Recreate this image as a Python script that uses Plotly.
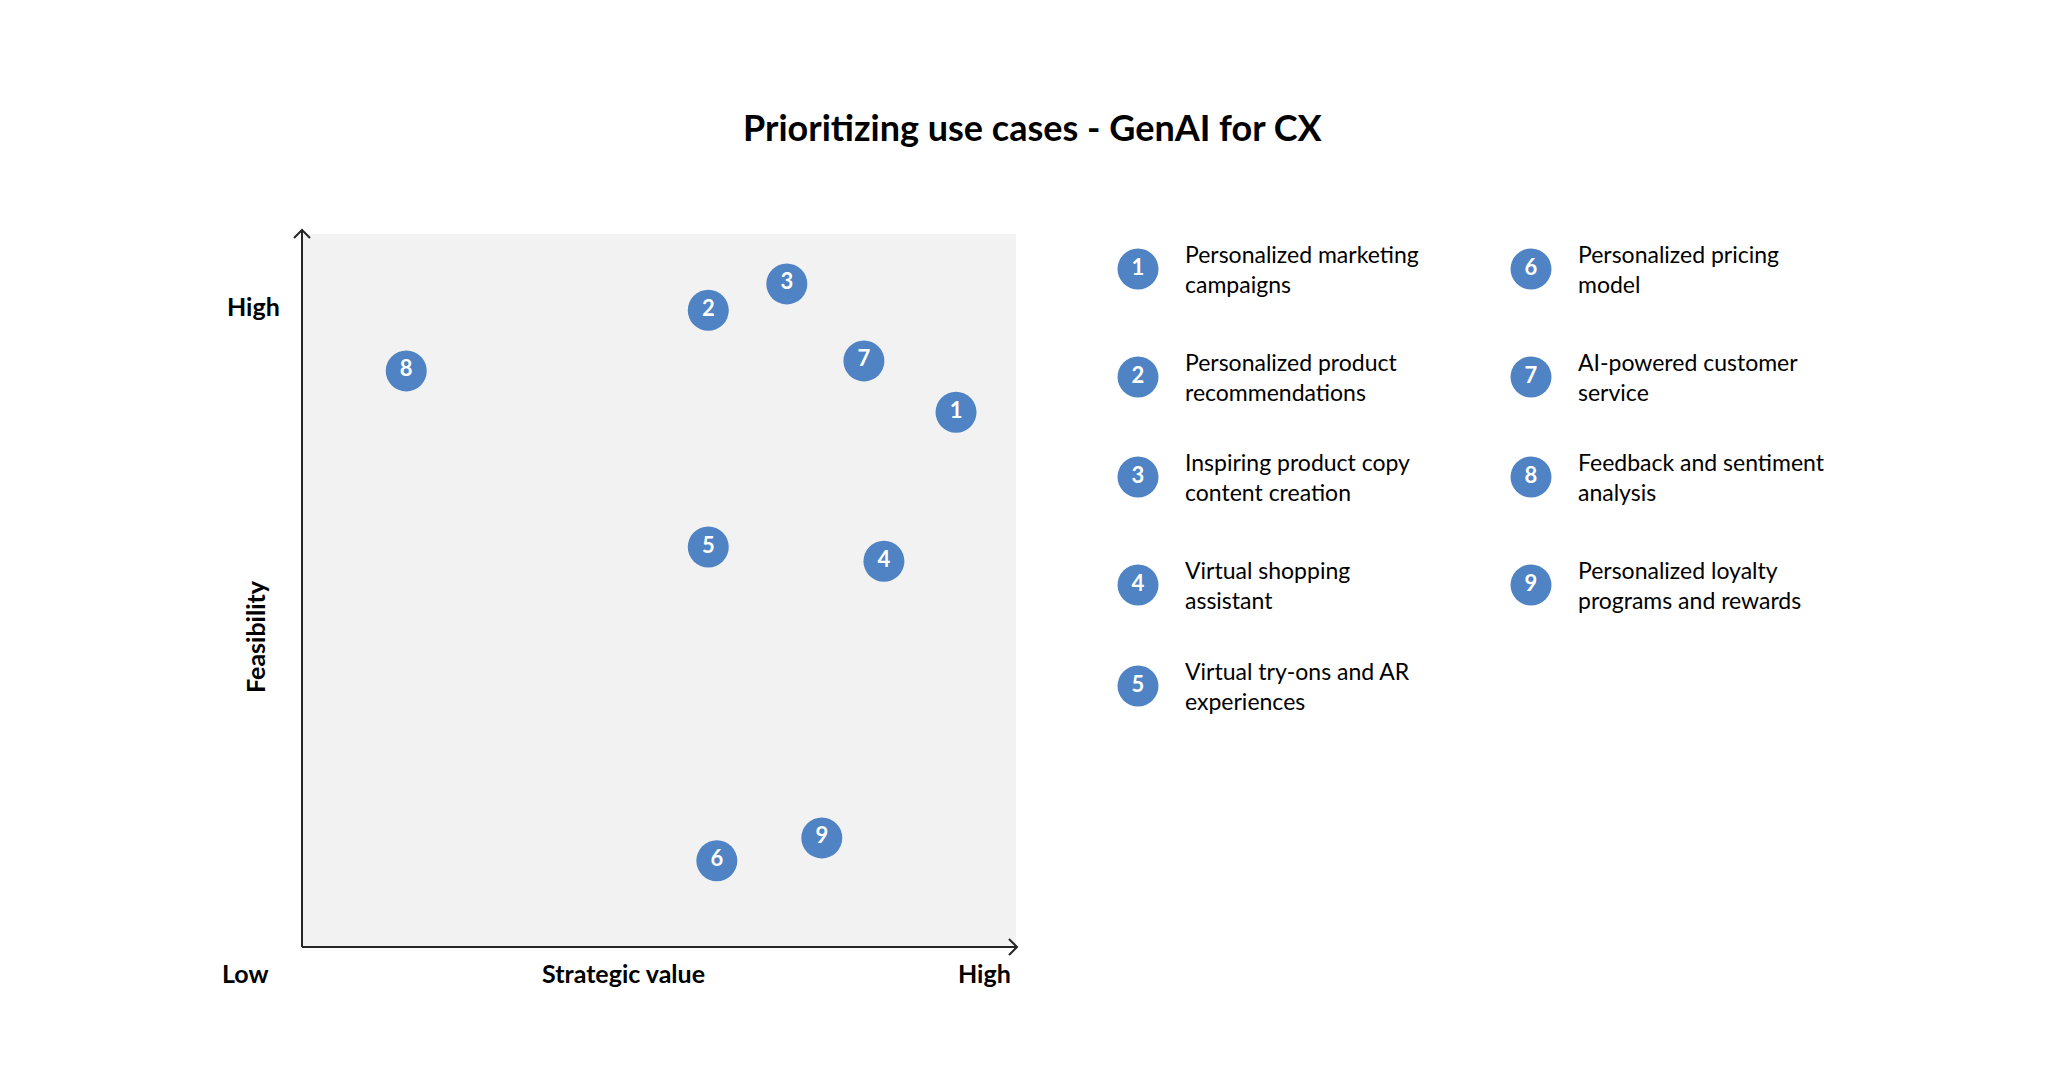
import plotly.graph_objects as go

# ---------------- data ----------------
ids = ["1", "2", "3", "4", "5", "6", "7", "8", "9"]
use_cases = [
    "Personalized marketing<br>campaigns",
    "Personalized product<br>recommendations",
    "Inspiring product copy<br>content creation",
    "Virtual shopping<br>assistant",
    "Virtual try-ons and AR<br>experiences",
    "Personalized pricing<br>model",
    "AI-powered customer<br>service",
    "Feedback and sentiment<br>analysis",
    "Personalized loyalty<br>programs and rewards",
]
strategic_value = [9.16, 5.69, 6.79, 8.15, 5.69, 5.81, 7.87, 1.46, 7.28]
feasibility = [7.50, 8.93, 9.30, 5.41, 5.61, 1.21, 8.22, 8.08, 1.53]

title_text = "Prioritizing use cases - GenAI for CX"
x_title = "Strategic value"
y_title = "Feasibility"
low_label = "Low"
high_label = "High"

# ---------------- style ----------------
W, H = 2048, 1076
OFF = 8  # page body margin
BLUE = "#4F83C4"
GRAY = "#F2F2F2"
AX = "#262626"
FONT = "Lato"

# legend layout (page pixels)
LEG_COL_X = [1138, 1531]
LEG_ROW_Y = [269, 377, 477, 585, 686]

def px(x):
    return (x - OFF) / W

def py(y):
    return 1 - (y - OFF) / H

x0, x1 = 302, 1016
y0, y1 = 947, 234

fig = go.Figure()

fig.add_trace(go.Scatter(
    x=strategic_value, y=feasibility, mode="markers+text",
    text=ids, textposition="middle center",
    textfont=dict(family=FONT, size=22, color="white", weight="bold"),
    marker=dict(size=41, color=BLUE, line=dict(width=0)),
    hoverinfo="skip", showlegend=False, cliponaxis=False,
))

# legend as a second scatter on a hidden full-page axis (page-pixel units)
leg_x, leg_y = [], []
for i in range(len(ids)):
    col, row = divmod(i, 5)
    leg_x.append(LEG_COL_X[col])
    leg_y.append(LEG_ROW_Y[row])

fig.add_trace(go.Scatter(
    x=leg_x, y=leg_y, mode="markers+text", xaxis="x2", yaxis="y2",
    text=ids, textposition="middle center",
    textfont=dict(family=FONT, size=22, color="white", weight="bold"),
    marker=dict(size=41, color=BLUE, line=dict(width=0)),
    hoverinfo="skip", showlegend=False, cliponaxis=False,
))

annotations = []
for i, label in enumerate(use_cases):
    annotations.append(dict(
        x=leg_x[i] + 45, y=leg_y[i], xref="x2", yref="y2",
        text=label, showarrow=False, xanchor="left", yanchor="middle",
        align="left", font=dict(family=FONT, size=23, color="black"),
    ))

lab_font = dict(family=FONT, size=25, color="black", weight="bold")
annotations += [
    dict(x=1032, y=127, xref="x2", yref="y2", text=title_text,
         showarrow=False, xanchor="center", yanchor="middle",
         font=dict(family=FONT, size=36, color="black", weight="bold")),
    dict(x=282, y=306, xref="x2", yref="y2", text=high_label,
         showarrow=False, xanchor="right", yanchor="middle", font=lab_font),
    dict(x=245, y=973, xref="x2", yref="y2", text=low_label,
         showarrow=False, xanchor="center", yanchor="middle", font=lab_font),
    dict(x=623, y=973, xref="x2", yref="y2", text=x_title,
         showarrow=False, xanchor="center", yanchor="middle", font=lab_font),
    dict(x=984, y=973, xref="x2", yref="y2", text=high_label,
         showarrow=False, xanchor="center", yanchor="middle", font=lab_font),
    dict(x=255, y=637, xref="x2", yref="y2", text=y_title,
         showarrow=False, xanchor="center", yanchor="middle", textangle=-90,
         font=lab_font),
]

shapes = [
    # plot area background
    dict(type="rect", xref="x", yref="y", x0=0, y0=0, x1=10, y1=10,
         fillcolor=GRAY, line=dict(width=0), layer="below"),
    # axis lines with open chevron arrowheads (page-pixel coordinates)
    dict(type="line", xref="x2", yref="y2", x0=x0, y0=y0, x1=x1 + 1, y1=y0,
         line=dict(color=AX, width=2)),
    dict(type="line", xref="x2", yref="y2", x0=x0, y0=y0, x1=x0, y1=y1 - 4,
         line=dict(color=AX, width=2)),
    dict(type="path", xref="x2", yref="y2",
         path=f"M {x1 - 7} {y0 - 8} L {x1 + 1} {y0} L {x1 - 7} {y0 + 8}",
         line=dict(color=AX, width=2)),
    dict(type="path", xref="x2", yref="y2",
         path=f"M {x0 - 8} {y1 + 4} L {x0} {y1 - 4} L {x0 + 8} {y1 + 4}",
         line=dict(color=AX, width=2)),
]

fig.update_layout(
    width=W, height=H, margin=dict(l=0, r=0, t=0, b=0),
    paper_bgcolor="white", plot_bgcolor="rgba(0,0,0,0)",
    xaxis=dict(domain=[px(x0), px(x1)], range=[0, 10], showgrid=False,
               zeroline=False, showticklabels=False, ticks="", fixedrange=True),
    yaxis=dict(domain=[py(y0), py(y1)], range=[0, 10], showgrid=False,
               zeroline=False, showticklabels=False, ticks="", fixedrange=True),
    xaxis2=dict(domain=[0, 1], range=[OFF, W + OFF], visible=False,
                anchor="y2", fixedrange=True),
    yaxis2=dict(domain=[0, 1], range=[H + OFF, OFF], visible=False,
                anchor="x2", fixedrange=True),
    annotations=annotations, shapes=shapes,
    font=dict(family=FONT),
)

fig.write_html("out.html")
